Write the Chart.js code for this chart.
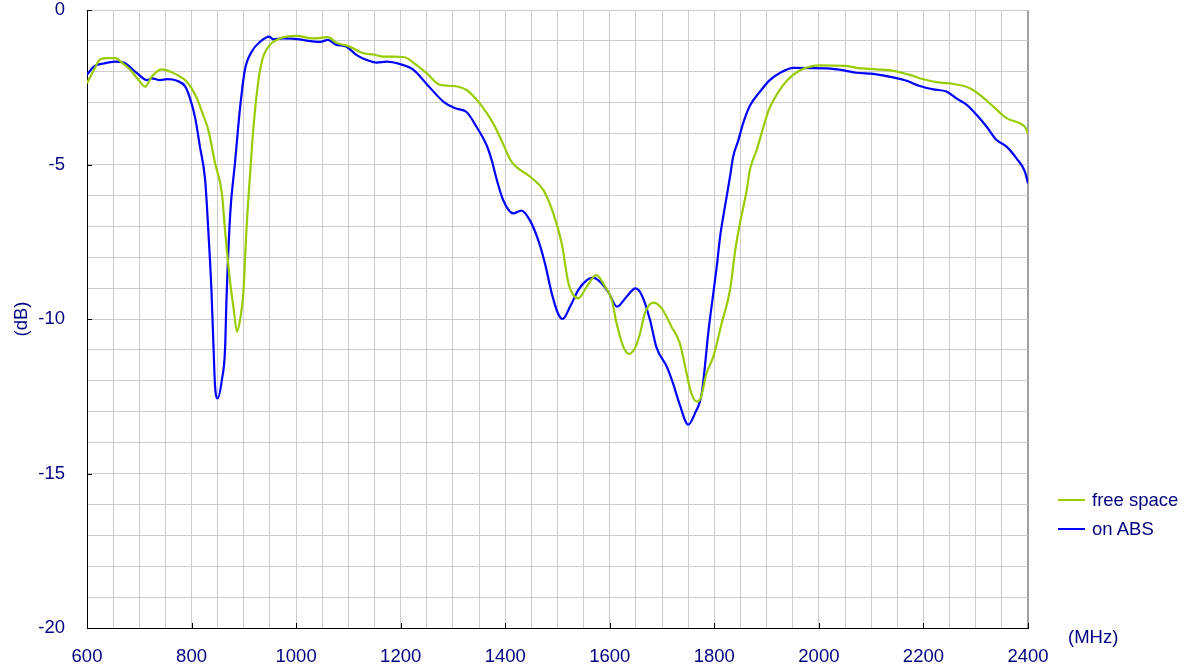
<!DOCTYPE html>
<html>
<head>
<meta charset="utf-8">
<script src="https://cdn.jsdelivr.net/npm/chart.js@4.4.0/dist/chart.umd.min.js"></script>
<style>
  html, body { margin: 0; padding: 0; background: #fff; }
  #wrap { position: relative; width: 1190px; height: 671px; font-family: "Liberation Sans", Arial, sans-serif; color: #000080; }
  #c { position: absolute; left: 0; top: 0; }
  .legend { position: absolute; left: 1058px; font-size: 18.5px; line-height: 20px; white-space: nowrap; }
  .legend span.sw { display: inline-block; width: 27px; height: 2px; vertical-align: middle; margin-right: 7px; position: relative; top: -1px; }
  #unit { position: absolute; left: 1068px; top: 626px; font-size: 18.5px; }
</style>
</head>
<body>
<div id="wrap">
  <canvas id="c" width="1190" height="671"></canvas>
  <div id="legend"></div>
  <div id="unit">(MHz)</div>
</div>
<script>
// ---- data ----
const seriesNames = ["free space", "on ABS"];
const seriesColors = ["#99cc00", "#0000ff"];

const freeSpaceFreq = [600,613,625,640,654,668,683,698,711,724,743,760,772,791,810,820,832,845,858,864,874,880,887,893,899,905,912,918,928,937,950,969,982,1000,1033,1061,1077,1100,1129,1148,1167,1186,1208,1224,1250,1275,1301,1326,1352,1377,1395,1412,1447,1473,1492,1508,1521,1530,1540,1556,1574,1591,1604,1613,1626,1637,1648,1658,1667,1683,1699,1718,1734,1747,1755,1766,1773,1785,1798,1814,1830,1840,1849,1862,1868,1881,1894,1904,1920,1939,1965,2003,2050,2072,2110,2142,2174,2200,2232,2257,2289,2308,2334,2359,2385,2394,2400];
const freeSpaceDb = [-2.37,-1.95,-1.6,-1.56,-1.56,-1.72,-1.94,-2.25,-2.48,-2.15,-1.92,-2.0,-2.1,-2.32,-2.85,-3.3,-3.88,-4.96,-5.93,-7.12,-8.84,-9.6,-10.41,-10.0,-9.17,-7.12,-5.29,-3.88,-2.27,-1.51,-1.13,-0.92,-0.86,-0.84,-0.92,-0.88,-1.06,-1.17,-1.4,-1.44,-1.51,-1.51,-1.53,-1.7,-2.05,-2.42,-2.46,-2.59,-3.04,-3.67,-4.3,-4.91,-5.39,-5.83,-6.58,-7.55,-8.85,-9.22,-9.33,-8.95,-8.58,-8.95,-9.39,-10.14,-10.9,-11.13,-10.95,-10.46,-9.82,-9.47,-9.65,-10.25,-10.79,-11.76,-12.35,-12.67,-12.6,-11.76,-11.22,-10.14,-9.06,-7.77,-6.9,-5.83,-5.18,-4.53,-3.78,-3.24,-2.72,-2.28,-1.94,-1.79,-1.81,-1.87,-1.92,-1.97,-2.1,-2.24,-2.35,-2.39,-2.53,-2.75,-3.13,-3.5,-3.67,-3.78,-3.99];

const absFreq = [600,613,632,654,670,696,715,724,740,753,772,788,798,807,816,826,832,838,842,845,850,858,864,867,874,883,893,902,915,931,949,956,975,1007,1020,1046,1061,1077,1094,1116,1135,1154,1173,1199,1224,1250,1282,1304,1326,1345,1365,1374,1384,1396,1415,1431,1447,1463,1476,1489,1501,1510,1524,1540,1556,1568,1581,1597,1614,1632,1649,1661,1677,1689,1709,1721,1734,1750,1763,1776,1789,1798,1805,1811,1817,1824,1830,1836,1846,1855,1868,1887,1906,1926,1951,2015,2050,2072,2104,2142,2168,2193,2219,2244,2263,2283,2302,2321,2340,2359,2378,2394,2400];
const absDb = [-2.1,-1.83,-1.73,-1.67,-1.7,-2.05,-2.27,-2.21,-2.27,-2.24,-2.29,-2.48,-2.91,-3.5,-4.42,-5.5,-7.12,-9.06,-10.9,-12.19,-12.57,-11.97,-11.0,-9.28,-6.58,-4.96,-3.13,-1.94,-1.35,-1.03,-0.86,-0.95,-0.92,-0.95,-0.99,-1.03,-0.97,-1.13,-1.17,-1.46,-1.62,-1.7,-1.67,-1.75,-1.93,-2.4,-2.97,-3.18,-3.3,-3.78,-4.4,-4.85,-5.5,-6.15,-6.58,-6.49,-6.8,-7.44,-8.2,-9.17,-9.82,-10.0,-9.6,-9.06,-8.74,-8.66,-8.79,-9.12,-9.6,-9.28,-9.01,-9.22,-10.03,-10.9,-11.54,-12.08,-12.78,-13.42,-13.05,-12.4,-10.36,-9.17,-8.25,-7.34,-6.69,-6.0,-5.39,-4.75,-4.21,-3.67,-3.1,-2.65,-2.27,-2.03,-1.87,-1.89,-1.96,-2.03,-2.07,-2.18,-2.29,-2.46,-2.57,-2.64,-2.86,-3.07,-3.4,-3.78,-4.21,-4.42,-4.8,-5.23,-5.61];

const xMin = 600, xMax = 2400, xStep = 50, xLabelStep = 200;
const yMin = -20, yMax = 0, yStep = 1, yLabelStep = 5;
const xTitle = "(MHz)", yTitle = "(dB)";

// ---- build ----
const toPts = (xs, ys) => xs.map((x, i) => ({ x: x, y: ys[i] }));
const textColor = "#000080";
const fontFamily = "'Liberation Sans', Arial, sans-serif";
const font = { family: fontFamily, size: 18.5 };

const majorTicks = {
  id: "majorTicks",
  afterDatasetsDraw(chart) {
    const { ctx, chartArea, scales } = chart;
    ctx.save();
    ctx.strokeStyle = "#000";
    ctx.lineWidth = 1;
    ctx.beginPath();
    for (let v = yMin; v <= yMax; v += yLabelStep) {
      const py = Math.round(scales.y.getPixelForValue(v)) + 0.5;
      ctx.moveTo(chartArea.left, py);
      ctx.lineTo(chartArea.left + 5, py);
    }
    for (let v = xMin; v <= xMax; v += xLabelStep) {
      const px = Math.round(scales.x.getPixelForValue(v)) + 0.5;
      ctx.moveTo(px, chartArea.bottom);
      ctx.lineTo(px, chartArea.bottom - 5);
    }
    ctx.stroke();
    ctx.restore();
  }
};

document.getElementById("unit").textContent = xTitle;

new Chart(document.getElementById("c"), {
  type: "line",
  data: {
    datasets: [
      { label: seriesNames[0], data: toPts(freeSpaceFreq, freeSpaceDb), borderColor: seriesColors[0], backgroundColor: seriesColors[0], borderWidth: 2.2, pointRadius: 0, cubicInterpolationMode: "monotone" },
      { label: seriesNames[1], data: toPts(absFreq, absDb), borderColor: seriesColors[1], backgroundColor: seriesColors[1], borderWidth: 2.2, pointRadius: 0, cubicInterpolationMode: "monotone" }
    ]
  },
  options: {
    responsive: false,
    animation: false,
    events: [],
    layout: { padding: { left: 0, right: 162, top: 10, bottom: 0 } },
    plugins: { legend: { display: false }, tooltip: { enabled: false } },
    scales: {
      x: {
        type: "linear", min: xMin, max: xMax,
        afterFit: s => { s.height = 43; },
        border: { display: true, color: "#000", width: 1 },
        grid: {
          drawTicks: false,
          color: c => (c.tick && c.tick.value === xMax) ? "#a0a0a0" : "#cccccc",
          lineWidth: c => (c.tick && c.tick.value === xMax) ? 2 : 1
        },
        ticks: {
          stepSize: xStep, autoSkip: false, maxRotation: 0, padding: 18,
          color: textColor, font: font,
          callback: v => (v % xLabelStep === 0 ? String(v) : "")
        }
      },
      y: {
        type: "linear", min: yMin, max: yMax,
        afterFit: s => { s.width = 87; },
        border: { display: true, color: "#000", width: 1 },
        grid: { drawTicks: true, tickLength: 22, tickColor: "rgba(0,0,0,0)", color: "#cccccc", lineWidth: 1 },
        title: { display: true, text: yTitle, color: textColor, font: font, padding: { top: 11, bottom: 0 } },
        ticks: {
          stepSize: yStep, autoSkip: false, padding: 0,
          color: textColor, font: { family: fontFamily, size: 18.5, lineHeight: 1 },
          callback: v => (v % yLabelStep === 0 ? String(v) : "")
        }
      }
    }
  },
  plugins: [majorTicks]
});

// HTML legend from series
const lg = document.getElementById("legend");
seriesNames.forEach((n, i) => {
  const d = document.createElement("div");
  d.className = "legend";
  d.style.top = (490 + i * 29) + "px";
  d.innerHTML = '<span class="sw" style="background:' + seriesColors[i] + '"></span>' + n;
  lg.appendChild(d);
});
</script>
</body>
</html>
